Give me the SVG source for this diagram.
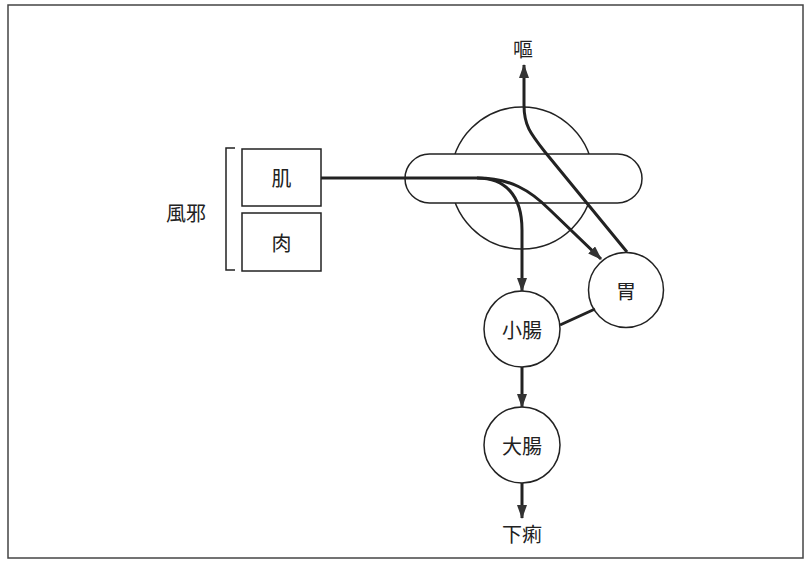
<svg xmlns="http://www.w3.org/2000/svg" width="805" height="561" viewBox="0 0 805 561">
<defs>
<style>
.shape{fill:#fff;stroke:#222;stroke-width:1.5}
.lbl{font-family:"Noto Sans CJK JP","Noto Sans CJK SC",sans-serif;font-size:20px;fill:#222;text-anchor:middle;dominant-baseline:central}
.flow{fill:none;stroke:#222;stroke-width:3}
</style>
<marker id="ah" viewBox="0 0 14 10" refX="13" refY="5" markerWidth="14" markerHeight="10" markerUnits="userSpaceOnUse" orient="auto">
<path d="M0,0 L14,5 L0,10 Z" fill="#333"/>
</marker>
</defs>
<rect x="8" y="5" width="795" height="553" fill="#fff" stroke="#444" stroke-width="1.5"/>
<g id="fuja">
<path d="M235,148 H226 V270 H235" fill="none" stroke="#222" stroke-width="1.5"/>
<text class="lbl" x="186" y="212">風邪</text>
</g>
<g id="ki">
<rect class="shape" x="242" y="149" width="79" height="57"/>
<text class="lbl" x="281.5" y="177.5">肌</text>
</g>
<g id="niku">
<rect class="shape" x="242" y="213" width="79" height="58"/>
<text class="lbl" x="281.5" y="242">肉</text>
</g>
<g id="middle">
<circle class="shape" cx="522" cy="178" r="71"/>
<rect class="shape" x="405" y="154" width="237" height="49" rx="24.5"/>
</g>
<g id="i">
<circle class="shape" cx="626" cy="290" r="37.5"/>
<text class="lbl" x="626" y="290">胃</text>
</g>
<g id="shocho">
<circle class="shape" cx="522" cy="329" r="38"/>
<text class="lbl" x="522" y="329">小腸</text>
</g>
<g id="daicho">
<circle class="shape" cx="522" cy="445" r="38"/>
<text class="lbl" x="522" y="445">大腸</text>
</g>
<g id="o">
<text class="lbl" x="523" y="48">嘔</text>
</g>
<g id="geri">
<text class="lbl" x="522" y="533">下痢</text>
</g>
<g id="connectors">
<path class="flow" d="M321,178 H477 C505,178 522,195 522,230 V291" marker-end="url(#ah)"/>
<path class="flow" d="M477,178 C510,178 530,190 550,210 L601,259" marker-end="url(#ah)"/>
<path class="flow" d="M627,252 L545,152 C530,133 524,125 524,105 V65" marker-end="url(#ah)"/>
<path class="flow" d="M560,325 L595,309"/>
<path class="flow" d="M522,367 V407" marker-end="url(#ah)"/>
<path class="flow" d="M522,483 V518" marker-end="url(#ah)"/>
</g>
</svg>
